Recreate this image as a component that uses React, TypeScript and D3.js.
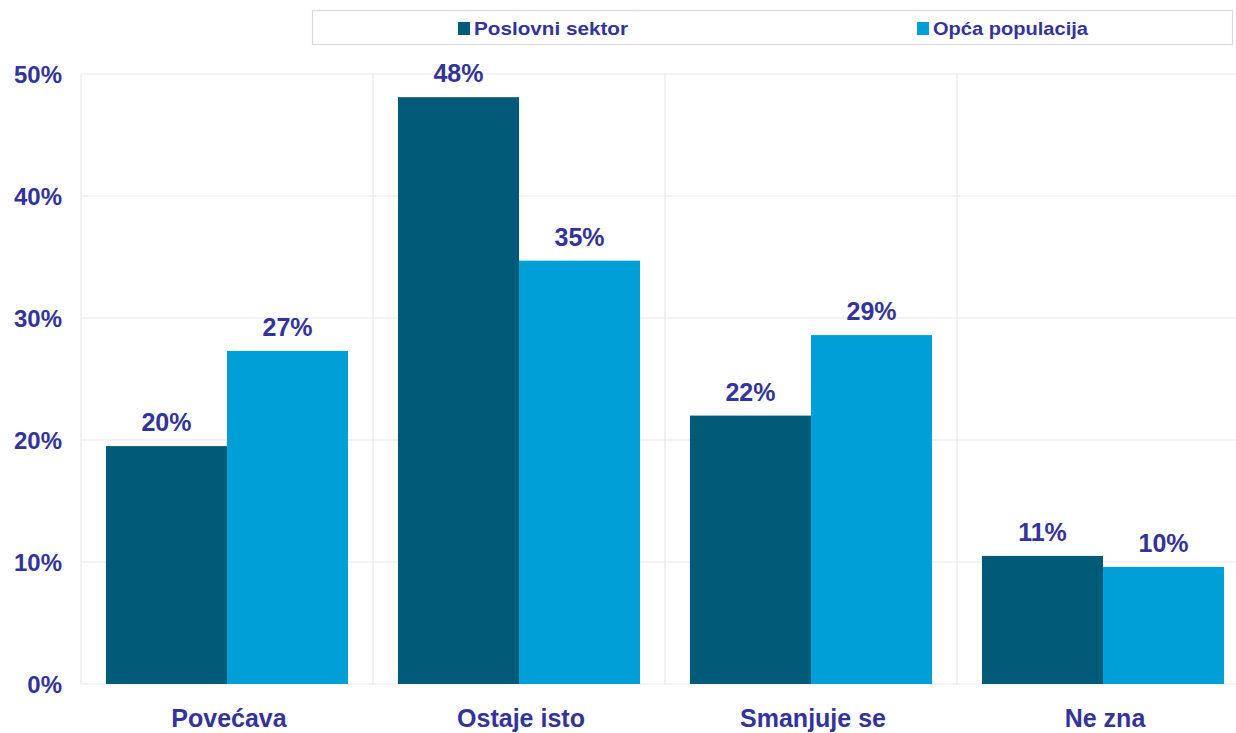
import { useEffect, useRef } from "react";
import * as d3 from "d3";

const categories = ["Povećava", "Ostaje isto", "Smanjuje se", "Ne zna"];
const seriesNames = ["Poslovni sektor", "Opća populacija"];
const poslovni = [19.5, 48.1, 22.0, 10.5];
const opca = [27.3, 34.7, 28.6, 9.6];
const valueLabels = [
  ["20%", "48%", "22%", "11%"],
  ["27%", "35%", "29%", "10%"],
];
const yTicks = [0, 10, 20, 30, 40, 50];

const W = 1236;
const H = 733;
const colors = ["#005A78", "#009FD7"];
const textColor = "#333399";
const font = "'Liberation Sans', Arial, sans-serif";

export default function App() {
  const svgRef = useRef<SVGSVGElement | null>(null);

  useEffect(() => {
    if (!svgRef.current) return;
    const svg = d3.select(svgRef.current);
    svg.selectAll("*").remove();

    const left = 81;
    const right = 1249; // plot runs past the image edge
    const top = 74;
    const bottom = 684;

    const x0 = d3.scaleBand<string>().domain(categories).range([left, right]).padding(0);
    const x1 = d3
      .scaleBand<number>()
      .domain([0, 1])
      .range([0, x0.bandwidth()])
      .paddingOuter(0.206)
      .paddingInner(0);
    const y = d3.scaleLinear().domain([0, 50]).range([bottom, top]);

    const g = svg.append("g");

    // grid
    g.selectAll("line.h")
      .data(yTicks)
      .join("line")
      .attr("x1", left)
      .attr("x2", right)
      .attr("y1", (d) => y(d))
      .attr("y2", (d) => y(d))
      .attr("stroke", "#e8e8e8")
      .attr("stroke-width", 1.2);

    g.selectAll("line.v")
      .data([...categories, "end"])
      .join("line")
      .attr("x1", (d, i) => left + i * x0.bandwidth())
      .attr("x2", (d, i) => left + i * x0.bandwidth())
      .attr("y1", top)
      .attr("y2", bottom)
      .attr("stroke", "#e8e8e8")
      .attr("stroke-width", 1.2);

    // y labels
    g.selectAll("text.yt")
      .data(yTicks)
      .join("text")
      .attr("x", 62)
      .attr("y", (d) => y(d))
      .attr("dy", "0.36em")
      .attr("text-anchor", "end")
      .attr("font-family", font)
      .attr("font-weight", "bold")
      .attr("font-size", 24)
      .attr("fill", textColor)
      .text((d) => `${d}%`);

    const series = [poslovni, opca];
    series.forEach((vals, s) => {
      const sg = g.append("g");
      sg.selectAll("rect")
        .data(vals)
        .join("rect")
        .attr("x", (d, i) => (x0(categories[i]) as number) + (x1(s) as number))
        .attr("width", x1.bandwidth())
        .attr("y", (d) => y(d))
        .attr("height", (d) => bottom - y(d))
        .attr("fill", colors[s]);

      sg.selectAll("text")
        .data(vals)
        .join("text")
        .attr("x", (d, i) => (x0(categories[i]) as number) + (x1(s) as number) + x1.bandwidth() / 2)
        .attr("y", (d) => y(d) - 15)
        .attr("text-anchor", "middle")
        .attr("font-family", font)
        .attr("font-weight", "bold")
        .attr("font-size", 25)
        .attr("fill", textColor)
        .text((d, i) => valueLabels[s][i]);
    });

    // category labels
    g.selectAll("text.cat")
      .data(categories)
      .join("text")
      .attr("x", (d) => (x0(d) as number) + x0.bandwidth() / 2 + 2)
      .attr("y", 727)
      .attr("text-anchor", "middle")
      .attr("font-family", font)
      .attr("font-weight", "bold")
      .attr("font-size", 25)
      .attr("fill", textColor)
      .text((d) => d);

    // legend
    const lg = svg.append("g");
    lg.append("rect")
      .attr("x", 312.5)
      .attr("y", 10.5)
      .attr("width", 920)
      .attr("height", 34)
      .attr("fill", "#fff")
      .attr("stroke", "#d9d9d9")
      .attr("stroke-width", 1.2);

    const legX = [458, 917];
    const legLen = [154, 155];
    seriesNames.forEach((name, i) => {
      lg.append("rect")
        .attr("x", legX[i])
        .attr("y", 22)
        .attr("width", 12)
        .attr("height", 13)
        .attr("fill", colors[i]);
      lg.append("text")
        .attr("x", legX[i] + 16)
        .attr("y", 35)
        .attr("font-family", font)
        .attr("font-weight", "bold")
        .attr("font-size", 19)
        .attr("textLength", legLen[i])
        .attr("lengthAdjust", "spacingAndGlyphs")
        .attr("fill", textColor)
        .text(name);
    });
  }, []);

  return (
    <svg
      ref={svgRef}
      width={W}
      height={H}
      style={{ position: "absolute", left: 0, top: 0, background: "#fff", overflow: "hidden" }}
    />
  );
}
